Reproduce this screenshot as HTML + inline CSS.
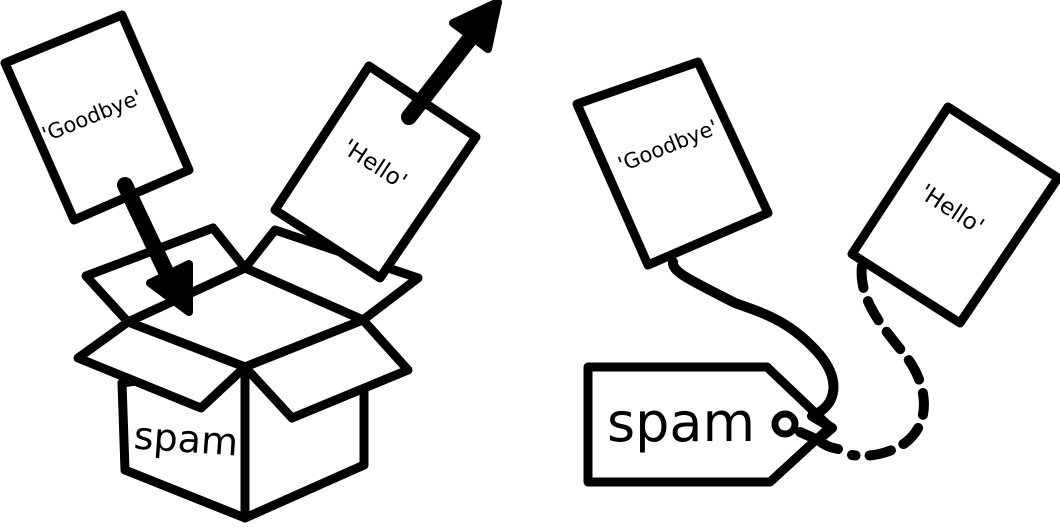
<!DOCTYPE html>
<html><head><meta charset="utf-8"><style>
html,body{margin:0;padding:0;background:#fff;}
svg{display:block}
text{font-family:"DejaVu Sans","Liberation Sans",sans-serif;fill:#000}
</style></head><body>
<svg width="1060" height="527" viewBox="0 0 1060 527" xmlns="http://www.w3.org/2000/svg">
<g fill="#fff" stroke="#000" stroke-width="9" stroke-linejoin="round" stroke-linecap="round">
  <polygon points="5,63 122,15 189,170 74,220"/>
  <polygon points="128,322 86,276 213,228 245,268"/>
  <polygon points="245,268 275,230 418,278 363,320"/>
  <polygon points="369,66 476,137 380,278 275,210"/>
  <polygon points="128,322 245,268 363,320 245,367"/>
  <polygon points="122,383 245,367 245,518 125,470"/>
  <polygon points="245,367 364,390 364,465 245,518"/>
  <polygon points="128,322 78,358 201,408 245,367"/>
  <polygon points="363,320 408,370 292,418 245,367"/>
</g>
<line x1="245" y1="367" x2="245" y2="518" stroke="#000" stroke-width="9"/>
<line x1="125" y1="185" x2="168" y2="276" stroke="#000" stroke-width="16" stroke-linecap="round"/>
<polygon points="150,283 189,264 189,312" fill="#000" stroke="#000" stroke-width="8" stroke-linejoin="round"/>
<line x1="409" y1="117" x2="472" y2="36" stroke="#000" stroke-width="16" stroke-linecap="round"/>
<polygon points="453,23 498,2 488,49" fill="#000" stroke="#000" stroke-width="8" stroke-linejoin="round"/>
<text x="92" y="123" font-size="21" text-anchor="middle" transform="rotate(-22 92 116)">'Goodbye'</text>
<text x="375" y="172" font-size="23" text-anchor="middle" transform="rotate(33 375 164)">'Hello'</text>
<text x="186" y="452" font-size="38" text-anchor="middle" transform="rotate(4 186 440)">spam</text>

<g fill="#fff" stroke="#000" stroke-width="9" stroke-linejoin="round">
  <polygon points="577,104 698,62 768,213 648,265"/>
  <polygon points="948,107 1058,178 960,323 852,254"/>
  <polygon points="588,367 767,367 830,427 770,482 588,482"/>
</g>
<text x="668" y="153" font-size="21" text-anchor="middle" transform="rotate(-22 668 146)">'Goodbye'</text>
<text x="952" y="217" font-size="23" text-anchor="middle" transform="rotate(33 952 209)">'Hello'</text>
<text x="607" y="441" font-size="54">spam</text>
<g fill="none" stroke="#000" stroke-linecap="round" stroke-linejoin="round">
  <path d="M673,262 C672,272 690,280 735,303 C760,312 790,320 820,355 C840,380 838,405 812,416 L832,428 L818,440 L800,432" stroke-width="10"/>
  <path d="M818,440 C825,446 832,448 838,449" stroke-width="10"/>
  <circle cx="785" cy="424" r="10" stroke-width="7"/>
  <path d="M862,266 C858,300 885,330 905,355 C925,380 935,420 905,443 C885,456 865,457 852,455" stroke-width="10" stroke-dasharray="22,14"/>
</g>
</svg>
</body></html>
